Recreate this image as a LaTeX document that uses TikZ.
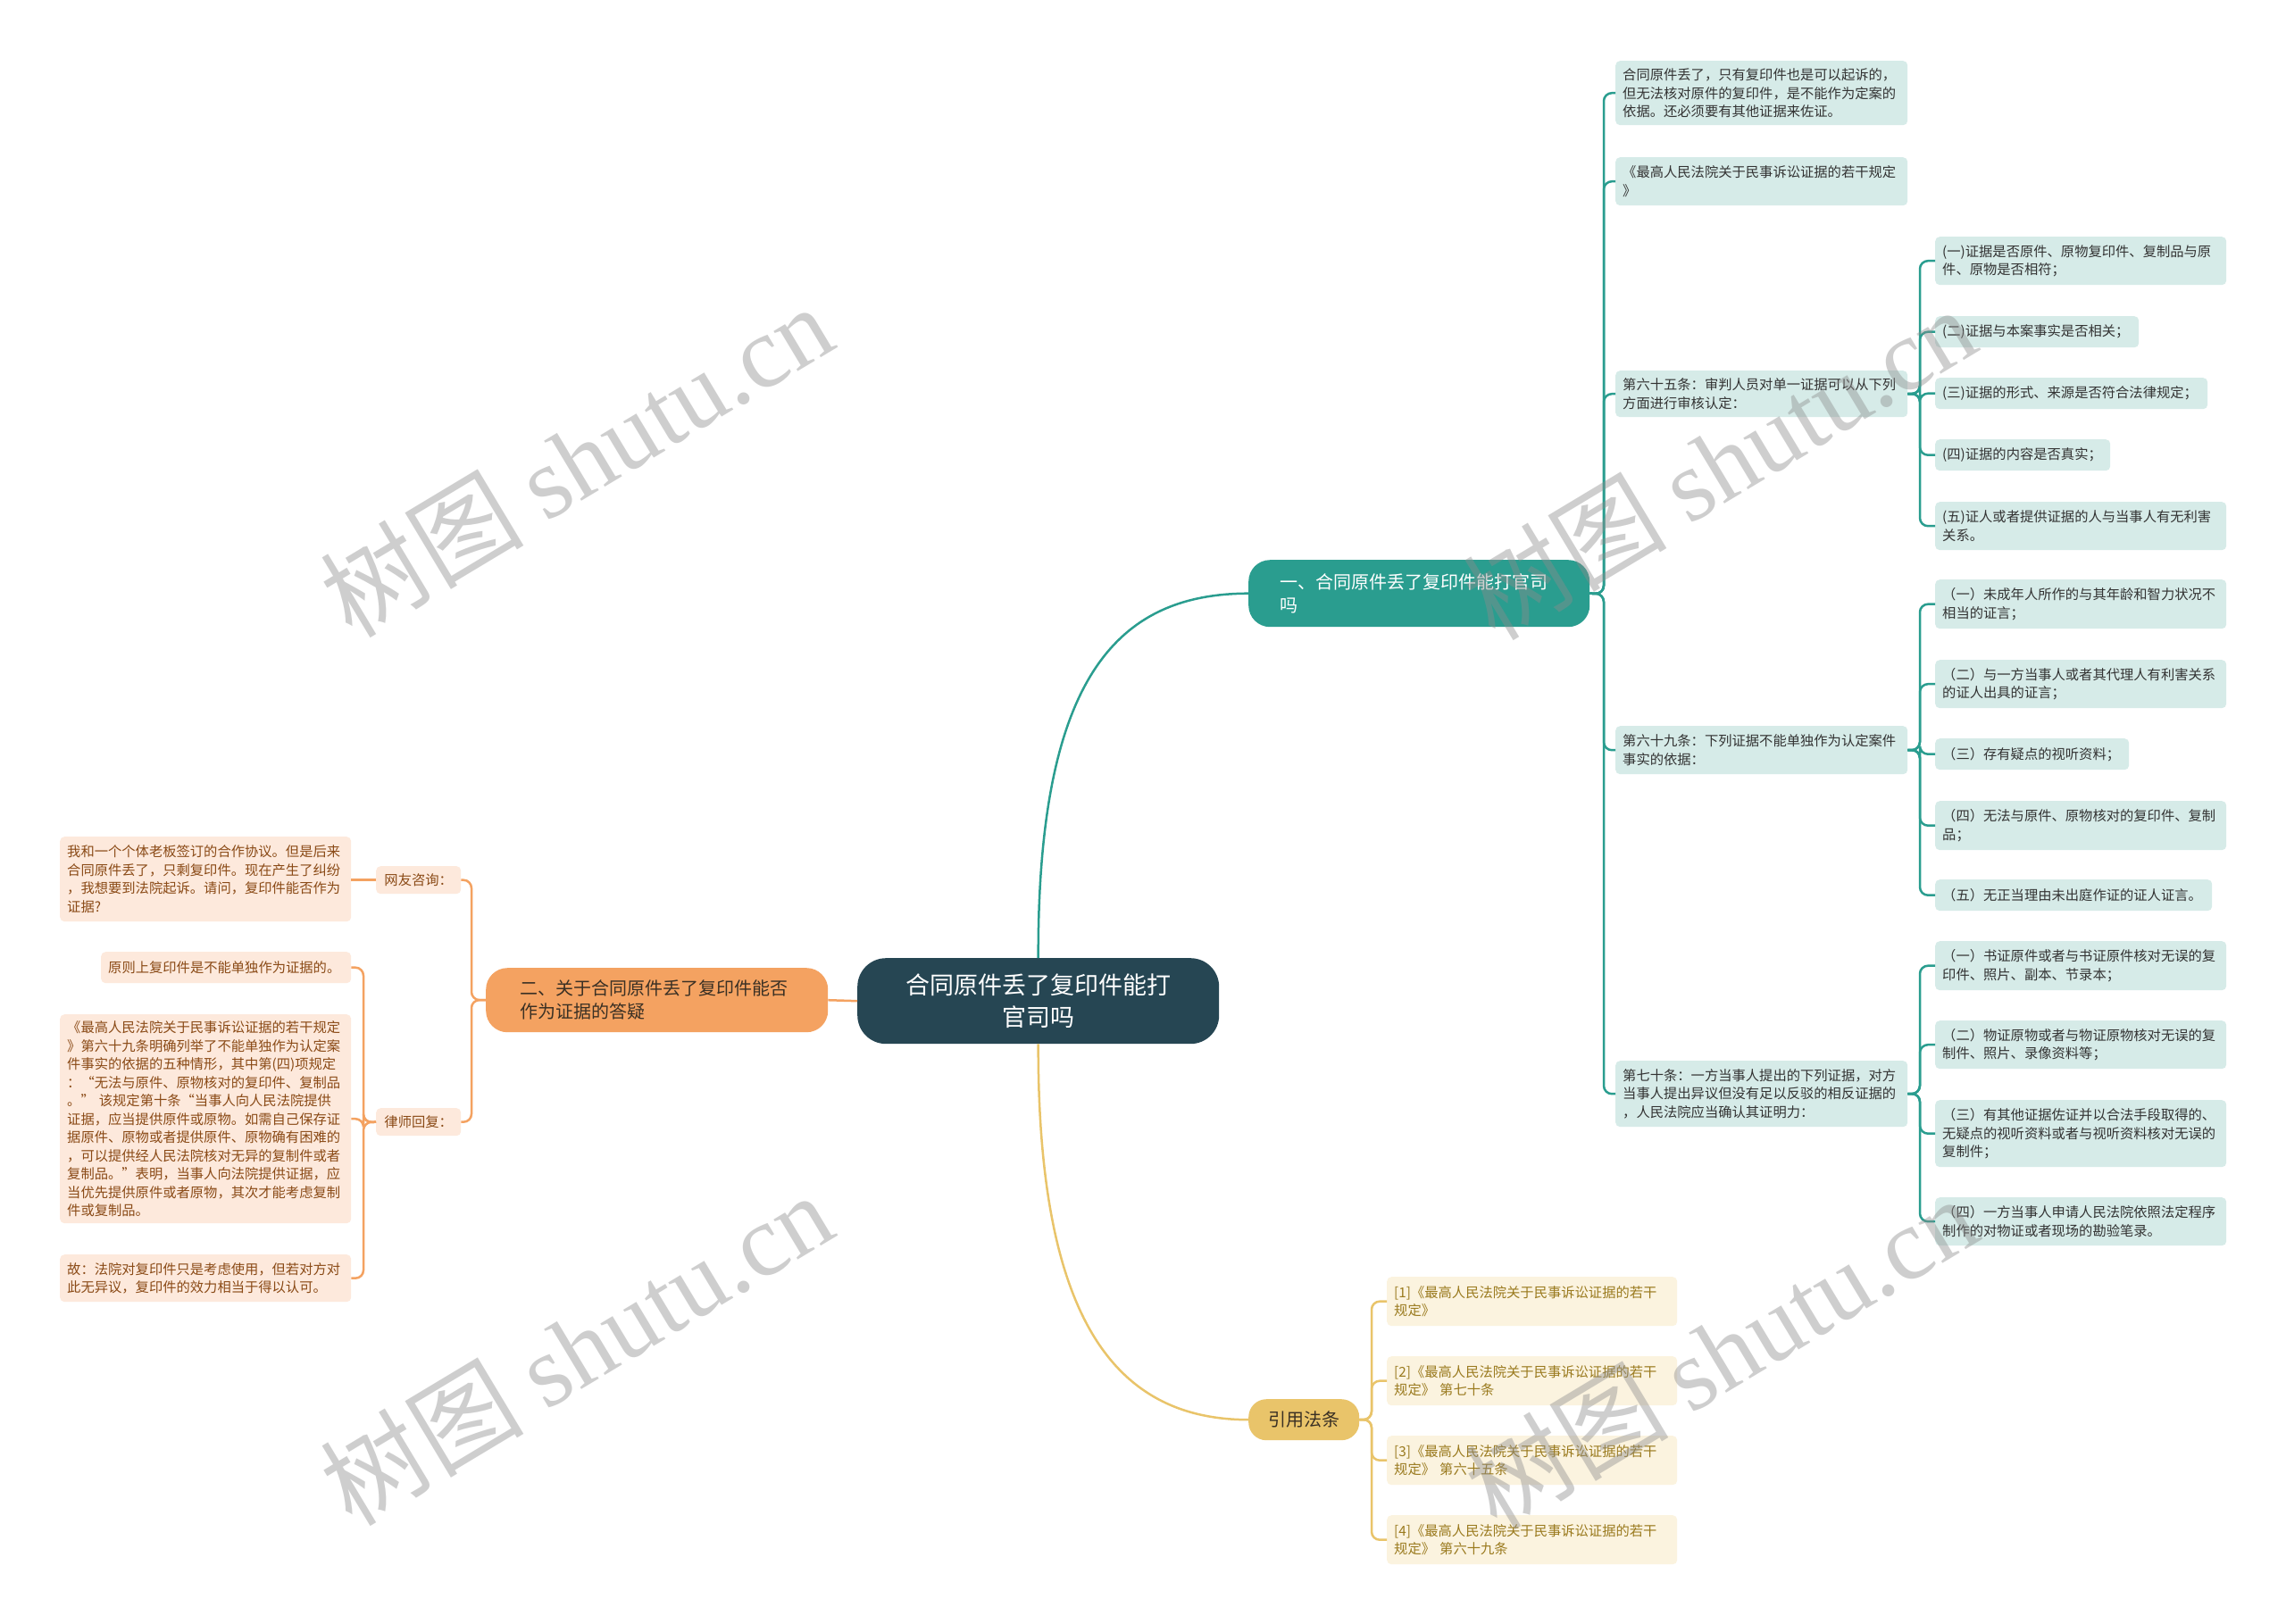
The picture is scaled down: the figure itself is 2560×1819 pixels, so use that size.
\documentclass[tikz,border=0pt]{standalone}
\usepackage{fontspec}
\setmainfont{Noto Sans CJK SC}
\newfontfamily\wmfont{Liberation Serif}
\definecolor{rootc}{HTML}{264653}
\definecolor{tealc}{HTML}{2A9D8F}
\definecolor{orangec}{HTML}{F4A261}
\definecolor{yellowc}{HTML}{E9C46A}
\definecolor{leafRc}{HTML}{D6EBE8}
\definecolor{leafRt}{HTML}{333333}
\definecolor{leafLc}{HTML}{FDE9DC}
\definecolor{leafLt}{HTML}{8A4A16}
\definecolor{leafYc}{HTML}{FBF3DF}
\definecolor{leafYt}{HTML}{9A7A1E}
\definecolor{darkt}{HTML}{3A3024}
\definecolor{wmc}{HTML}{8C8C8C}
\newcommand\fsleaf{\fontsize{15.3pt}{20.5pt}\selectfont}
\newcommand\fsbranch{\fontsize{20pt}{26pt}\selectfont}
\newcommand\fsroot{\fontsize{27pt}{36pt}\selectfont}
\begin{document}
\begin{tikzpicture}[x=1pt,y=-1pt,
  rootbox/.style={fill=rootc,text=white,rounded corners=32pt,anchor=north west,align=center,font=\fsroot,inner sep=0pt},
  branchbox/.style={rounded corners=24pt,anchor=north west,align=left,font=\fsbranch,inner ysep=0pt},
  leafbase/.style={rounded corners=5pt,anchor=north west,align=left,font=\fsleaf,inner xsep=8pt,inner ysep=1pt},
  leafR/.style={leafbase,fill=leafRc,text=leafRt},
  leafL/.style={leafbase,fill=leafLc,text=leafLt},
  leafY/.style={leafbase,fill=leafYc,text=leafYt},
  conT/.style={draw=tealc,line width=2.5pt,rounded corners=9pt},
  conO/.style={draw=orangec,line width=2.5pt,rounded corners=9pt},
  conY/.style={draw=yellowc,line width=2.5pt,rounded corners=9pt},
  wm/.style={text=wmc,opacity=0.42,rotate=31,font=\fontsize{114pt}{120pt}\selectfont,inner sep=0pt}
]
\useasboundingbox[fill=white] (0,0) rectangle (2560,1819);

% root and branches
\node[rootbox,minimum width=405pt,minimum height=96pt] (root) at (960,1073) {合同原件丢了复印件能打\\官司吗};
\node[branchbox,fill=tealc,text=white,inner xsep=35pt,text width=312pt,minimum height=75pt] (b1) at (1398,627) {一、合同原件丢了复印件能打官司\\吗};
\node[branchbox,fill=orangec,text=darkt,inner xsep=38pt,text width=307pt,minimum height=72pt] (b2) at (544,1084) {二、关于合同原件丢了复印件能否\\作为证据的答疑};
\node[branchbox,fill=yellowc,text=darkt,rounded corners=20pt,align=center,inner xsep=0pt,minimum width=124pt,minimum height=46pt] (b3) at (1398,1567) {引用法条};

% branch 1 level 2
\node[leafR,text width=311pt,minimum height=72pt] (a) at (1809,68) {合同原件丢了，只有复印件也是可以起诉的，\\但无法核对原件的复印件，是不能作为定案的\\依据。还必须要有其他证据来佐证。};
\node[leafR,text width=311pt,minimum height=54pt] (b) at (1809,176) {《最高人民法院关于民事诉讼证据的若干规定\\》};
\node[leafR,text width=311pt,minimum height=52pt] (c) at (1809,415) {第六十五条：审判人员对单一证据可以从下列\\方面进行审核认定：};
\node[leafR,text width=311pt,minimum height=54pt] (d) at (1809,813) {第六十九条：下列证据不能单独作为认定案件\\事实的依据：};
\node[leafR,text width=311pt,minimum height=74pt] (e) at (1809,1188) {第七十条：一方当事人提出的下列证据，对方\\当事人提出异议但没有足以反驳的相反证据的\\，人民法院应当确认其证明力：};

% level 3 under c
\node[leafR,text width=310pt,minimum height=54pt] (c1) at (2167,265) {(一)证据是否原件、原物复印件、复制品与原\\件、原物是否相符；};
\node[leafR,text width=212pt,minimum height=35pt] (c2) at (2167,354) {(二)证据与本案事实是否相关；};
\node[leafR,text width=289pt,minimum height=35pt] (c3) at (2167,423) {(三)证据的形式、来源是否符合法律规定；};
\node[leafR,text width=180pt,minimum height=35pt] (c4) at (2167,492) {(四)证据的内容是否真实；};
\node[leafR,text width=310pt,minimum height=54pt] (c5) at (2167,562) {(五)证人或者提供证据的人与当事人有无利害\\关系。};

% level 3 under d
\node[leafR,text width=310pt,minimum height=55pt] (d1) at (2167,649) {（一）未成年人所作的与其年龄和智力状况不\\相当的证言；};
\node[leafR,text width=310pt,minimum height=54pt] (d2) at (2167,739) {（二）与一方当事人或者其代理人有利害关系\\的证人出具的证言；};
\node[leafR,text width=201pt,minimum height=35pt] (d3) at (2167,827) {（三）存有疑点的视听资料；};
\node[leafR,text width=310pt,minimum height=55pt] (d4) at (2167,897) {（四）无法与原件、原物核对的复印件、复制\\品；};
\node[leafR,text width=294pt,minimum height=35pt] (d5) at (2167,985) {（五）无正当理由未出庭作证的证人证言。};

% level 3 under e
\node[leafR,text width=310pt,minimum height=55pt] (e1) at (2167,1054) {（一）书证原件或者与书证原件核对无误的复\\印件、照片、副本、节录本；};
\node[leafR,text width=310pt,minimum height=54pt] (e2) at (2167,1143) {（二）物证原物或者与物证原物核对无误的复\\制件、照片、录像资料等；};
\node[leafR,text width=310pt,minimum height=75pt] (e3) at (2167,1232) {（三）有其他证据佐证并以合法手段取得的、\\无疑点的视听资料或者与视听资料核对无误的\\复制件；};
\node[leafR,text width=310pt,minimum height=54pt] (e4) at (2167,1341) {（四）一方当事人申请人民法院依照法定程序\\制作的对物证或者现场的勘验笔录。};

% branch 3 children
\node[leafY,text width=309pt,minimum height=55pt] (l1) at (1553,1430) {[1]《最高人民法院关于民事诉讼证据的若干\\规定》};
\node[leafY,text width=309pt,minimum height=55pt] (l2) at (1553,1519) {[2]《最高人民法院关于民事诉讼证据的若干\\规定》 第七十条};
\node[leafY,text width=309pt,minimum height=55pt] (l3) at (1553,1608) {[3]《最高人民法院关于民事诉讼证据的若干\\规定》 第六十五条};
\node[leafY,text width=309pt,minimum height=55pt] (l4) at (1553,1697) {[4]《最高人民法院关于民事诉讼证据的若干\\规定》 第六十九条};

% branch 2 side
\node[leafL,align=center,inner xsep=0pt,minimum width=95pt,minimum height=31pt] (q) at (421,970) {网友咨询：};
\node[leafL,align=center,inner xsep=0pt,minimum width=95pt,minimum height=31pt] (r) at (421,1241) {律师回复：};
\node[leafL,text width=310pt,minimum height=95pt] (q1) at (67,937) {我和一个个体老板签订的合作协议。但是后来\\合同原件丢了，只剩复印件。现在产生了纠纷\\，我想要到法院起诉。请问，复印件能否作为\\证据?};
\node[leafL,text width=264pt,minimum height=35pt] (r1) at (113,1066) {原则上复印件是不能单独作为证据的。};
\node[leafL,text width=310pt,minimum height=234pt] (r2) at (67,1136) {《最高人民法院关于民事诉讼证据的若干规定\\》第六十九条明确列举了不能单独作为认定案\\件事实的依据的五种情形，其中第(四)项规定\\：“无法与原件、原物核对的复印件、复制品\\。” 该规定第十条“当事人向人民法院提供\\证据，应当提供原件或原物。如需自己保存证\\据原件、原物或者提供原件、原物确有困难的\\，可以提供经人民法院核对无异的复制件或者\\复制品。”表明，当事人向法院提供证据，应\\当优先提供原件或者原物，其次才能考虑复制\\件或复制品。};
\node[leafL,text width=310pt,minimum height=53pt] (r3) at (67,1405) {故：法院对复印件只是考虑使用，但若对方对\\此无异议，复印件的效力相当于得以认可。};

% connectors root -> branches
\draw[draw=tealc,line width=2.5pt] (root.north) .. controls (1162,760) and (1250,665) .. (b1.west);
\draw[draw=yellowc,line width=2.5pt] (root.south) .. controls (1162,1480) and (1250,1590) .. (b3.west);
\draw[draw=orangec,line width=2.5pt] (root.west) -- (b2.east);

% branch 1 -> level 2
\foreach \n in {a,b,c,d,e} \draw[conT] (b1.east) -- (1796,665) |- (\n.west);
\foreach \n in {c1,c2,c3,c4,c5} \draw[conT] (c.east) -- (2150,441) |- (\n.west);
\foreach \n in {d1,d2,d3,d4,d5} \draw[conT] (d.east) -- (2150,840) |- (\n.west);
\foreach \n in {e1,e2,e3,e4} \draw[conT] (e.east) -- (2150,1225) |- (\n.west);

% branch 3 -> citations
\foreach \n in {l1,l2,l3,l4} \draw[conY] (b3.east) -- (1536,1590) |- (\n.west);

% branch 2 -> left
\foreach \n in {q,r} \draw[conO] (b2.west) -- (528,1120) |- (\n.east);
\draw[conO] (q.west) -- (q1.east |- q.west);
\foreach \n in {r1,r2,r3} \draw[conO] (r.west) -- (407,1257) |- (\n.east);

% watermarks
\node[wm] (w1) at (645,515) {树图 {\wmfont shutu.cn}};
\node[wm] (w2) at (645,1510) {树图 {\wmfont shutu.cn}};
\node[wm] (w3) at (1925,518) {树图 {\wmfont shutu.cn}};
\node[wm] (w4) at (1927,1514) {树图 {\wmfont shutu.cn}};
\end{tikzpicture}
\end{document}
